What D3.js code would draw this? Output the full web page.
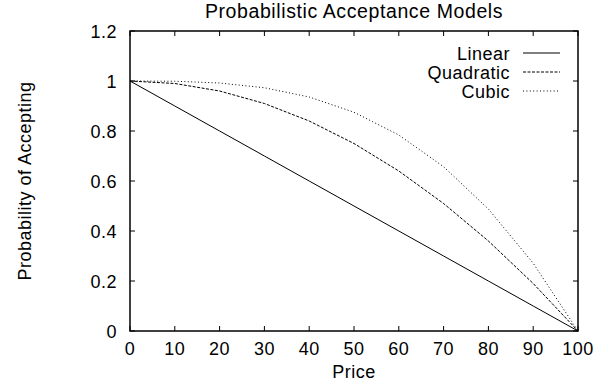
<!DOCTYPE html>
<html>
<head>
<meta charset="utf-8">
<script src="https://cdn.jsdelivr.net/npm/d3@7"></script>
<style>
  body { margin: 0; background: #fff; }
  text { font-family: "Liberation Sans", Arial, Helvetica, sans-serif; fill: #000; letter-spacing: 0.5px; }
</style>
</head>
<body>
<script>
const width = 612, height = 386;

// prices sampled every 10
const prices = [0, 10, 20, 30, 40, 50, 60, 70, 80, 90, 100];
const linear = [1, 0.9, 0.8, 0.7, 0.6, 0.5, 0.4, 0.3, 0.2, 0.1, 0];
const quadratic = [1, 0.99, 0.96, 0.91, 0.84, 0.75, 0.64, 0.51, 0.36, 0.19, 0];
const cubic = [1, 0.999, 0.992, 0.973, 0.936, 0.875, 0.784, 0.657, 0.488, 0.271, 0];

const seriesNames = ["Linear", "Quadratic", "Cubic"];
const xTicks = [0, 10, 20, 30, 40, 50, 60, 70, 80, 90, 100];
const yTicks = [0, 0.2, 0.4, 0.6, 0.8, 1, 1.2];

const dashes = {
    Linear: null,
    Quadratic: "3,1.5",
    Cubic: "1,2.4"
};

const margin = { left: 130, right: 34, top: 31, bottom: 55 };
const fontSize = "18px";

const svg = d3.select("body").append("svg")
    .attr("width", width)
    .attr("height", height);

const x = d3.scaleLinear().domain([0, 100]).range([margin.left, width - margin.right]);
const y = d3.scaleLinear().domain([0, 1.2]).range([height - margin.bottom, margin.top]);

const series = [
    { name: "Linear", values: linear },
    { name: "Quadratic", values: quadratic },
    { name: "Cubic", values: cubic }
];

// ticks on all four sides, pointing inward
const tickLen = 5;
const g = svg.append("g").attr("stroke", "#000").attr("stroke-width", 1);
xTicks.forEach(t => {
    g.append("line").attr("x1", x(t)).attr("x2", x(t)).attr("y1", y(0)).attr("y2", y(0) - tickLen);
    g.append("line").attr("x1", x(t)).attr("x2", x(t)).attr("y1", y(1.2)).attr("y2", y(1.2) + tickLen);
});
yTicks.forEach(t => {
    g.append("line").attr("x1", x(0)).attr("x2", x(0) + tickLen).attr("y1", y(t)).attr("y2", y(t));
    g.append("line").attr("x1", x(100)).attr("x2", x(100) - tickLen).attr("y1", y(t)).attr("y2", y(t));
});

// tick labels
svg.selectAll(".xlabel")
    .data(xTicks)
    .enter()
    .append("text")
    .attr("x", d => x(d))
    .attr("y", y(0) + 24)
    .attr("text-anchor", "middle")
    .attr("font-size", fontSize)
    .text(d => d);

svg.selectAll(".ylabel")
    .data(yTicks)
    .enter()
    .append("text")
    .attr("x", x(0) - 13)
    .attr("y", d => y(d) + 6.5)
    .attr("text-anchor", "end")
    .attr("font-size", fontSize)
    .text(d => d);

// lines
const line = d3.line()
    .x((d, i) => x(prices[i]))
    .y(d => y(d));

svg.selectAll(".series")
    .data(series)
    .enter()
    .append("path")
    .attr("d", d => line(d.values))
    .attr("fill", "none")
    .attr("stroke", "#000")
    .attr("stroke-width", 1)
    .attr("stroke-dasharray", d => dashes[d.name]);

// frame
svg.append("rect")
    .attr("x", x(0))
    .attr("y", y(1.2))
    .attr("width", x(100) - x(0))
    .attr("height", y(0) - y(1.2))
    .attr("fill", "none")
    .attr("stroke", "#000")
    .attr("stroke-width", 1.5);

// legend
const legend = svg.append("g");
seriesNames.forEach((name, i) => {
    const ly = 53 + i * 19;
    legend.append("text")
        .attr("x", 510)
        .attr("y", ly + 6.5)
        .attr("text-anchor", "end")
        .attr("font-size", fontSize)
        .text(name);
    legend.append("line")
        .attr("x1", 523).attr("x2", 560)
        .attr("y1", ly).attr("y2", ly)
        .attr("stroke", "#000")
        .attr("stroke-width", 1)
        .attr("stroke-dasharray", dashes[name]);
});

// titles
svg.append("text")
    .attr("x", (x(0) + x(100)) / 2)
    .attr("y", 18)
    .attr("text-anchor", "middle")
    .attr("font-size", "19.5px")
    .style("letter-spacing", "0.6px")
    .text("Probabilistic Acceptance Models");

svg.append("text")
    .attr("x", (x(0) + x(100)) / 2)
    .attr("y", 378)
    .attr("text-anchor", "middle")
    .attr("font-size", fontSize)
    .text("Price");

svg.append("text")
    .attr("transform", `translate(31, ${(y(0) + y(1.2)) / 2}) rotate(-90)`)
    .attr("text-anchor", "middle")
    .attr("font-size", fontSize)
    .text("Probability of Accepting");
</script>
</body>
</html>
